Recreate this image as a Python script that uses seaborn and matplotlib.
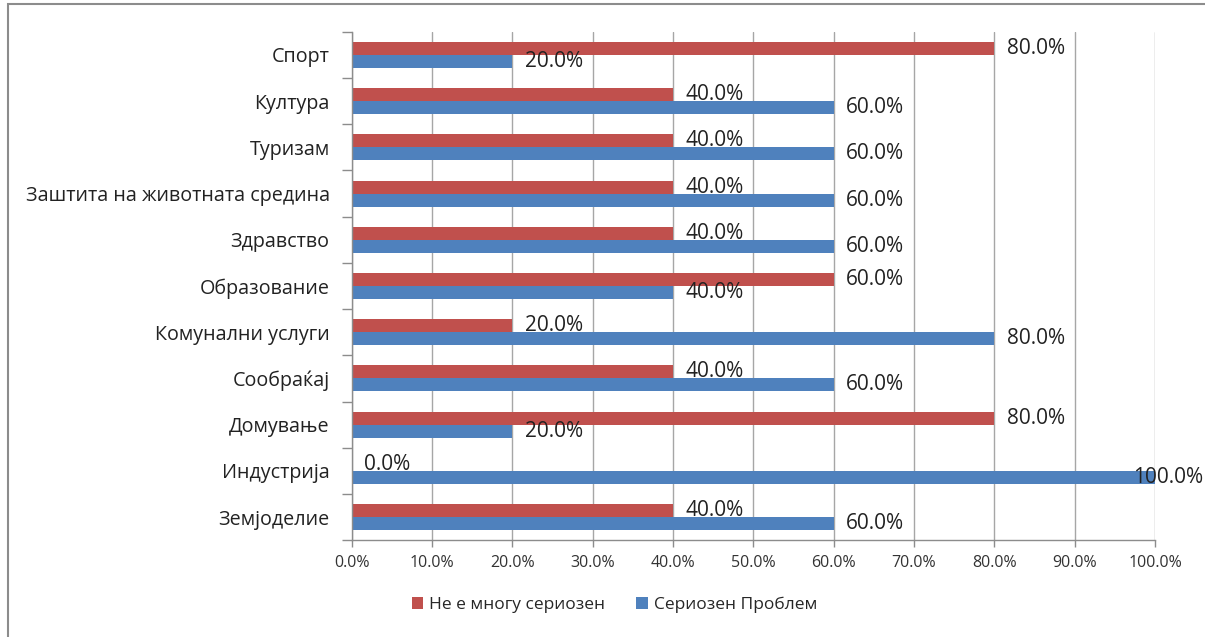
import numpy as np
import pandas as pd
import matplotlib
matplotlib.use("Agg")
import matplotlib.pyplot as plt
import matplotlib.ticker as mticker
from matplotlib.patches import Rectangle
import seaborn as sns

# Податоци
kategorii = ['Спорт', 'Култура', 'Туризам', 'Заштита на животната средина',
             'Здравство', 'Образование', 'Комунални услуги', 'Сообраќај',
             'Домување', 'Индустрија', 'Земјоделие']
ne_mnogu = [80, 40, 40, 40, 40, 60, 20, 40, 80, 0, 40]
seriozen = [20, 60, 60, 60, 60, 40, 80, 60, 20, 100, 60]
serii = ['Не е многу сериозен', 'Сериозен Проблем']
boi = ['#C0504D', '#4F81BD']

df = pd.DataFrame({
    'kategorija': kategorii * 2,
    'vrednost': ne_mnogu + seriozen,
    'serija': [serii[0]] * len(kategorii) + [serii[1]] * len(kategorii),
})

sns.set_style("white")
plt.rcParams['font.family'] = ['Open Sans', 'DejaVu Sans']

fig = plt.figure(figsize=(12.05, 6.37), dpi=100)
ax = fig.add_axes([0.292, 0.152, 0.6665, 0.798])

sns.barplot(data=df, x='vrednost', y='kategorija', hue='serija',
            order=kategorii, hue_order=serii, palette=boi, orient='h',
            width=0.56, saturation=1, linewidth=0, ax=ax, legend=True)

ax.set_xlim(0, 100)
ax.set_ylim(len(kategorii) - 0.5, -0.5)
ax.set_xlabel('')
ax.set_ylabel('')

ax.xaxis.set_major_locator(mticker.MultipleLocator(10))
ax.xaxis.set_major_formatter(mticker.FuncFormatter(lambda v, p: f'{v:.1f}%'))
ax.tick_params(axis='x', labelsize=11.5, colors='#333333', length=5, width=1,
               color='#8C8C8C', pad=6, direction='out', bottom=True)
ax.grid(axis='x', color='#A6A6A6', linewidth=1)
ax.set_axisbelow(True)

# ознаки на категории, црти меѓу групите
ax.set_yticks(range(len(kategorii)))
ax.set_yticklabels(kategorii, fontsize=14.2, color='#222222')
ax.yaxis.set_minor_locator(mticker.FixedLocator(np.arange(-0.5, len(kategorii), 1)))
ax.tick_params(axis='y', which='major', length=0, pad=16)
ax.tick_params(axis='y', which='minor', length=7, width=1, color='#8C8C8C',
               left=True, direction='out')

for s in ['top', 'right']:
    ax.spines[s].set_visible(False)
for s in ['left', 'bottom']:
    ax.spines[s].set_color('#8C8C8C')
    ax.spines[s].set_linewidth(1)

# етикети со вредности
for cont in ax.containers:
    for bar in cont:
        w = bar.get_width()
        y = bar.get_y() + bar.get_height() / 2
        dx = 9 if w < 100 else -16
        ax.annotate(f'{w:.1f}%', xy=(w, y), xytext=(dx, 0),
                    textcoords='offset points', ha='left', va='center',
                    fontsize=15, color='#222222', annotation_clip=False)

# легенда
handles, labels = ax.get_legend_handles_labels()
ax.legend_.remove()
fig.legend(handles, labels, loc='center', bbox_to_anchor=(0.51, 0.05),
           ncol=2, frameon=False, fontsize=12.5, handlelength=0.65,
           handleheight=0.65, handletextpad=0.35, columnspacing=1.8)

# рамка околу графиконот
fig.patches.append(Rectangle((0.007, -0.1), 1.0, 1.093, transform=fig.transFigure,
                             fill=False, edgecolor='#8C8C8C', linewidth=1.5))

fig.savefig('out.png', dpi=100)
